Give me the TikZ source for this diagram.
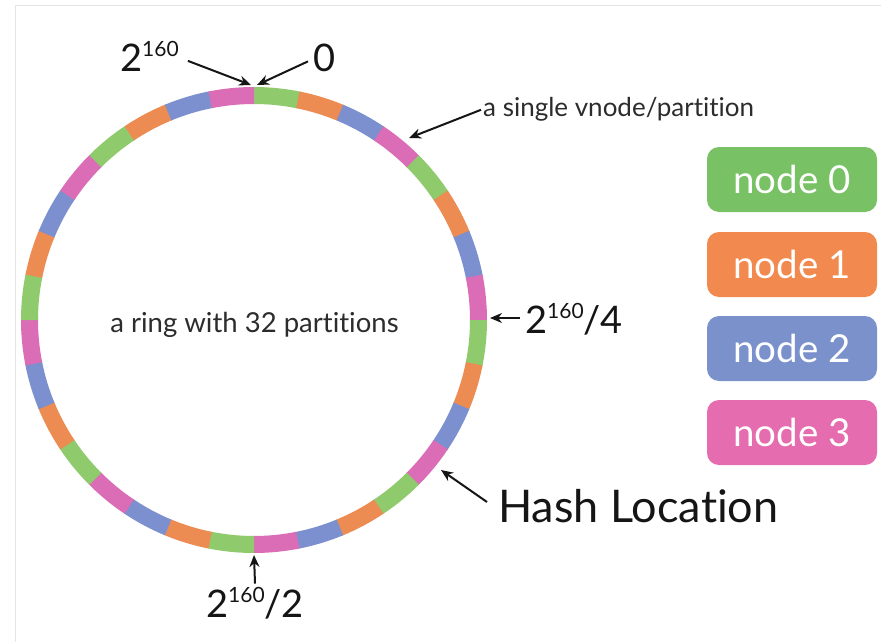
\documentclass[tikz,border=0pt]{standalone}
\usepackage{fontspec}
\setmainfont{Lato}[Ligatures={NoCommon,NoRequired,NoContextual,NoDiscretionary}]
\usetikzlibrary{arrows.meta}

% partition colours on the ring
\definecolor{seg0}{HTML}{8FCB6C}
\definecolor{seg1}{HTML}{EC8B52}
\definecolor{seg2}{HTML}{7C90CF}
\definecolor{seg3}{HTML}{DA6DB6}
% legend colours
\definecolor{leg0}{HTML}{79C165}
\definecolor{leg1}{HTML}{F2894E}
\definecolor{leg2}{HTML}{7A91CC}
\definecolor{leg3}{HTML}{E56CAE}
\definecolor{ink}{HTML}{151515}
\definecolor{framegray}{HTML}{E4E4E4}

\newcommand\raisedexp[1]{\raisebox{15pt}{\fontsize{21}{21}\selectfont #1}}

\tikzset{
  pointer/.style={draw=ink, line width=2pt, -{Stealth[length=12pt,width=10pt]}},
  biglabel/.style={inner sep=0pt, text=ink, font=\fontsize{38}{38}\selectfont},
  midlabel/.style={inner sep=0pt, text=ink!90, font=\fontsize{26}{26}\selectfont},
  ringlabel/.style={inner sep=0pt, text=ink!90, font=\fontsize{27.5}{27.5}\selectfont},
  hashlabel/.style={inner sep=0pt, text=ink, font=\fontsize{45}{45}\selectfont},
  legendbox/.style={rounded corners=12pt, minimum width=170pt, minimum height=65pt,
    inner sep=0pt, text=white, font=\fontsize{38.5}{38.5}\selectfont},
}

\begin{document}
\begin{tikzpicture}[x=1pt,y=1pt]
\useasboundingbox (0,0) rectangle (881,-642);
\fill[white] (0,0) rectangle (881,-642);
\draw[framegray, line width=1pt] (15.5,-642) -- (15.5,-6) -- (881,-6);

% the ring: 32 partitions, coloured by owning node, clockwise from the top
\foreach \i in {0,...,31} {
  \pgfmathtruncatemacro\k{mod(\i,4)}
  \pgfmathsetmacro\a{90-11.25*\i}
  \pgfmathsetmacro\b{\i<31 ? 90-11.25*(\i+1)-0.25 : 90-11.25*(\i+1)}
  \fill[seg\k, shift={(254,-320)}]
    (\a:233pt) arc[start angle=\a, end angle=\b, radius=233pt]
    -- (\b:216pt) arc[start angle=\b, end angle=\a, radius=216pt] -- cycle;
}

% points on the ring that the labels refer to
\coordinate (pmax) at (251,-85);
\coordinate (pzero) at (257,-85);
\coordinate (pv) at (409,-138);
\coordinate (pq) at (490,-318);
\coordinate (ph) at (441,-470);
\coordinate (pb) at (254,-555);

\node[ringlabel, anchor=base] (ring) at (254.5,-332) {a ring with 32 partitions};

\node[biglabel, anchor=base west] (lmax) at (120,-72) {2\raisedexp{160}};
\node[biglabel, anchor=base west] (lzero) at (313,-72) {0};
\node[midlabel, anchor=base west] (lv) at (483,-117) {a single vnode/partition};
\node[biglabel, anchor=base west] (lq) at (525,-333) {2\raisedexp{160}/4};
\node[hashlabel, anchor=base west] (lh) at (498,-522) {Hash Location};
\node[biglabel, anchor=base] (lb) at (255,-617) {2\raisedexp{160}/2};

\draw[pointer] ([xshift=9pt,yshift=-4pt]lmax.east) -- (pmax);
\draw[pointer] ([xshift=-5pt,yshift=-3pt]lzero.west) -- (pzero);
\draw[pointer] ([xshift=-2pt]lv.west) -- (pv);
\draw[pointer] ([xshift=-5pt,yshift=15pt]lq.base west) -- (pq);
\draw[pointer] ([xshift=-11pt,yshift=20pt]lh.base west) -- (ph);
\draw[pointer] ([yshift=3pt]lb.north) -- (pb);

% legend
\node[legendbox, fill=leg0] (n0) at (792,-179.5) {node 0};
\node[legendbox, fill=leg1] (n1) at (792,-264.5) {node 1};
\node[legendbox, fill=leg2] (n2) at (792,-348.5) {node 2};
\node[legendbox, fill=leg3] (n3) at (792,-432.5) {node 3};
\end{tikzpicture}
\end{document}
